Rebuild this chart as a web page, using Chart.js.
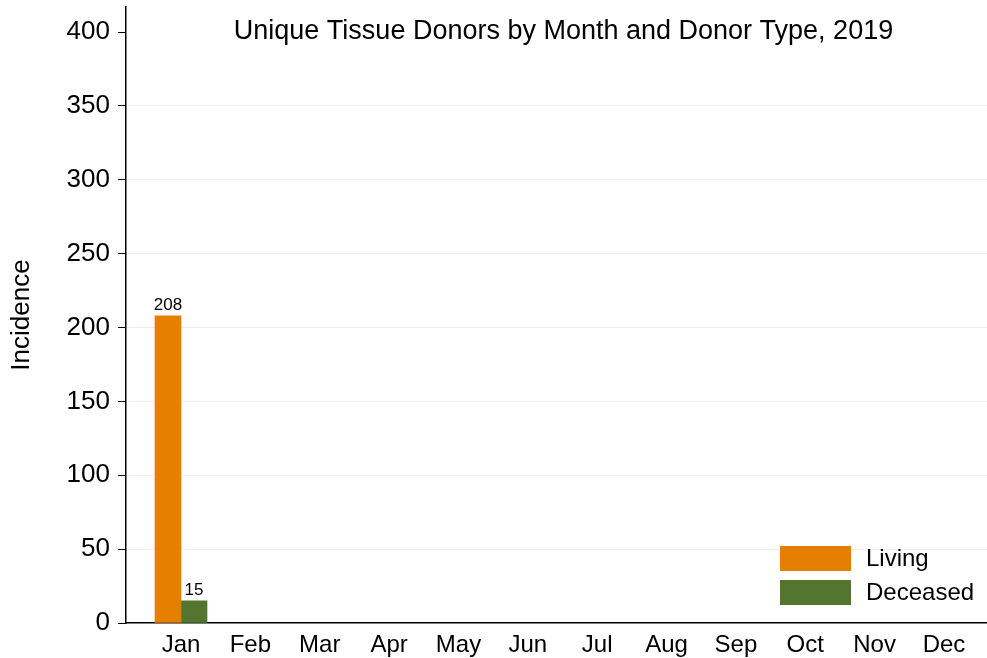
<!DOCTYPE html>
<html>
<head>
<meta charset="utf-8">
<script src="https://cdn.jsdelivr.net/npm/chart.js@4.4.1/dist/chart.umd.min.js"></script>
<style>
  html, body { margin: 0; padding: 0; background: #fff; }
  #wrap { width: 987px; height: 658px; }
</style>
</head>
<body>
<div id="wrap"><canvas id="chart"></canvas></div>
<script>
// months on the x axis
const months = ["Jan", "Feb", "Mar", "Apr", "May", "Jun", "Jul", "Aug", "Sep", "Oct", "Nov", "Dec"];
// donors per month (only January reported)
const living = [208, null, null, null, null, null, null, null, null, null, null, null];
const deceased = [15, null, null, null, null, null, null, null, null, null, null, null];
const yTicks = [0, 50, 100, 150, 200, 250, 300, 350, 400];

const chartTitle = "Unique Tissue Donors by Month and Donor Type, 2019";
const FONT = "'Liberation Sans', Arial, Helvetica, sans-serif";

const toPoints = arr => arr.map((v, i) => ({ x: i + 1, y: v }));

// title drawn inside the plot region
const titlePlugin = {
  id: "insideTitle",
  afterDraw(chart) {
    const { ctx, chartArea } = chart;
    ctx.save();
    ctx.font = "27px " + FONT;
    ctx.fillStyle = "#000";
    ctx.textAlign = "center";
    ctx.textBaseline = "middle";
    ctx.fillText(chartTitle, (chartArea.left + chartArea.right) / 2 + 7, chartArea.top + 25);
    ctx.restore();
  }
};

// value labels above the bars
const valueLabels = {
  id: "valueLabels",
  afterDatasetsDraw(chart) {
    const { ctx } = chart;
    ctx.save();
    ctx.font = "17px " + FONT;
    ctx.fillStyle = "#000";
    ctx.textAlign = "center";
    ctx.textBaseline = "alphabetic";
    chart.data.datasets.forEach((ds, di) => {
      chart.getDatasetMeta(di).data.forEach((bar, i) => {
        const v = ds.data[i].y;
        if (v == null) return;
        ctx.fillText(v, bar.x, bar.y - 6);
      });
    });
    ctx.restore();
  }
};

// legend box in the lower right corner of the plot
const boxLegend = {
  id: "boxLegend",
  afterDraw(chart) {
    const { ctx, chartArea } = chart;
    const x = chartArea.right - 207;
    let y = chartArea.bottom - 77;
    ctx.save();
    ctx.font = "24px " + FONT;
    ctx.textBaseline = "middle";
    ctx.textAlign = "left";
    chart.data.datasets.forEach(ds => {
      ctx.fillStyle = ds.backgroundColor;
      ctx.fillRect(x, y, 71, 25);
      ctx.fillStyle = "#000";
      ctx.fillText(ds.label, x + 86, y + 13);
      y += 34;
    });
    ctx.restore();
  }
};

new Chart(document.getElementById("chart"), {
  type: "bar",
  data: {
    datasets: [
      { label: "Living", data: toPoints(living), backgroundColor: "#E67E00" },
      { label: "Deceased", data: toPoints(deceased), backgroundColor: "#53752F" }
    ]
  },
  options: {
    responsive: true,
    maintainAspectRatio: false,
    animation: false,
    layout: { padding: { top: 7, right: 0, left: 0, bottom: 0 } },
    plugins: {
      legend: { display: false },
      tooltip: { enabled: false }
    },
    datasets: { bar: { barThickness: 26 } },
    scales: {
      x: {
        type: "linear",
        offset: false,
        min: 0.207,
        max: 12.62,
        afterBuildTicks: scale => { scale.ticks = months.map((m, i) => ({ value: i + 1 })); },
        afterFit: scale => { scale.height = 35; },
        ticks: {
          autoSkip: false,
          maxRotation: 0,
          padding: 8,
          color: "#000",
          font: { family: FONT, size: 24 },
          callback: v => months[v - 1]
        },
        grid: { display: false, drawTicks: false },
        border: { color: "#000", width: 1.5 }
      },
      y: {
        min: 0,
        max: 417,
        afterBuildTicks: scale => { scale.ticks = yTicks.map(v => ({ value: v })); },
        afterFit: scale => { scale.width = 126; scale.paddingTop = 0; },
        ticks: {
          padding: 8,
          color: "#000",
          font: { family: FONT, size: 26 }
        },
        grid: {
          color: ctx => (ctx.tick && (ctx.tick.value === 0 || ctx.tick.value === 400)) ? "rgba(0,0,0,0)" : "#EAEFF0",
          tickColor: "#000",
          tickLength: 8,
          lineWidth: 1
        },
        border: { color: "#000", width: 1.5 },
        title: {
          display: true,
          text: "Incidence",
          color: "#000",
          font: { family: FONT, size: 26 },
          padding: { top: 6, bottom: 0 }
        }
      }
    }
  },
  plugins: [titlePlugin, valueLabels, boxLegend]
});
</script>
</body>
</html>
